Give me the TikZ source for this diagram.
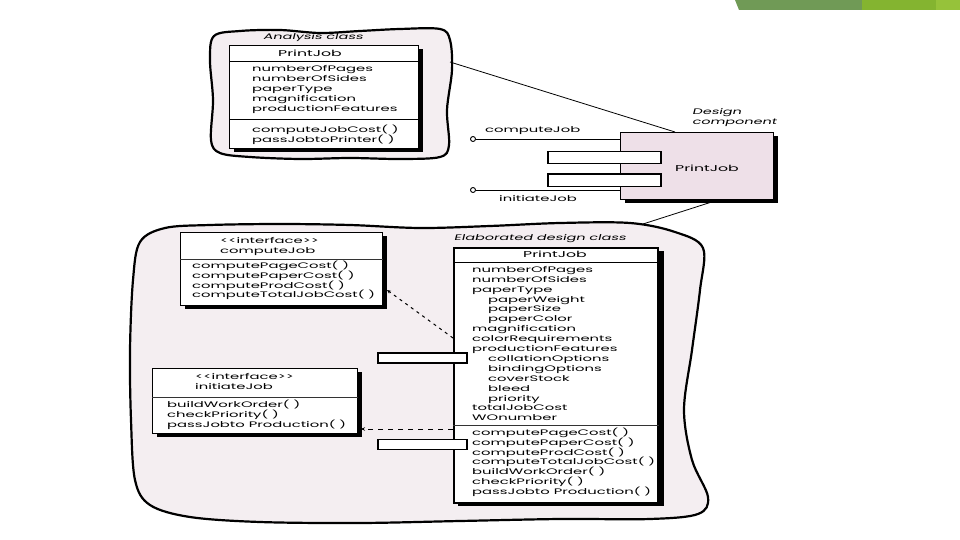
\documentclass[tikz,border=0pt]{standalone}
\usepackage{fontspec}
\usetikzlibrary{arrows.meta,positioning,shadows}
\newfontfamily\umlfont{Poppins}[FakeStretch=1.85]
\newfontfamily\umlslant{Poppins}[FakeStretch=1.8,FakeSlant=0.25]
\definecolor{cloudpink}{RGB}{244,238,241}
\definecolor{comppink}{RGB}{238,224,232}
\definecolor{bargreen}{RGB}{112,154,86}
\definecolor{barlime}{RGB}{132,180,48}
\definecolor{barleaf}{RGB}{150,194,58}
\tikzset{
  blob/.style={draw=black,line width=2.2pt,fill=cloudpink,line join=round},
  classbox/.style={draw=black,line width=1.2pt,fill=white,anchor=north west,inner sep=0pt,
    general shadow={fill=black,shadow xshift=4pt,shadow yshift=-3pt}},
  compbox/.style={classbox,fill=comppink,line width=1.3pt},
  portbox/.style={draw=black,line width=1.5pt,fill=white,anchor=north west,inner sep=0pt},
  sepline/.style={draw=black!80,line width=0.9pt},
  % first baseline sits on the given y
  members/.style={anchor=north west,yshift=6.93pt,align=left,inner sep=0pt,
    font=\umlfont\fontsize{8}{9.9}\selectfont,execute at begin node=\strut},
  hdr/.style={inner sep=0pt,font=\umlfont\fontsize{8.5}{10}\selectfont},
  italabel/.style={inner sep=0pt,anchor=base west,align=left,font=\umlslant\fontsize{8}{9.5}\selectfont},
  lolly/.style={circle,draw=black,line width=0.9pt,fill=white,inner sep=0pt,minimum size=5pt},
  wire/.style={draw=black,line width=0.8pt},
  realize/.style={-{Stealth[length=4pt,width=3.5pt]},draw=black,line width=1pt,dash pattern=on 5pt off 5pt}
}
\begin{document}
\begin{tikzpicture}[x=1pt,y=-1pt]
\useasboundingbox (0,0) rectangle (960,540);
% slide accent bar
\fill[bargreen] (735,0) -- (862,0) -- (862,10) -- (739,10) -- cycle;
\fill[barlime] (862,0) rectangle (936,10);
\fill[barleaf] (936,0) rectangle (960,10);

% clouds
\draw[blob] plot[smooth cycle,tension=0.55] coordinates {
  (214,36) (240,31) (280,30) (320,33) (360,31) (400,29) (440,29) (450,40) (452,70)
  (447,110) (449,145) (440,157) (400,159) (350,158) (300,159) (250,157) (220,153)
  (211,140) (213,100) (210,60)};
\draw[blob] plot[smooth cycle,tension=0.55] coordinates {
  (140,242) (165,228) (210,225) (280,224) (350,225) (420,228) (490,226) (560,223)
  (630,223) (675,232) (703,248) (700,290) (692,350) (684,410) (692,460) (708,497)
  (698,514) (650,519) (560,519) (460,521) (360,523) (260,522) (190,517) (150,505)
  (135,480) (131,420) (130,350) (133,280)};
\coordinate (anaEdge) at (450,62);
\coordinate (elabEdge) at (643,224);

% analysis class
\node[italabel,anchor=base] (anaTag) at (313,40) {Analysis class};
\node[classbox,minimum width=189pt,minimum height=103pt] (pjA) at (229,45) {};
\node[hdr] (pjAName) at (310,53) {PrintJob};
\draw[sepline,draw=black] (pjA.west |- 0,61) -- (pjA.east |- 0,61);
\node[members] (pjAAttr) at (252,72.5) {numberOfPages\\numberOfSides\\paperType\\magnification\\productionFeatures};
\draw[sepline,draw=black] (pjA.west |- 0,119) -- (pjA.east |- 0,119);
\node[members] (pjAOps) at (252,131.5) {computeJobCost( )\\passJobtoPrinter( )};

% design component
\node[compbox,minimum width=153pt,minimum height=67pt] (comp) at (620,132) {};
\node[hdr] (compName) at (707,168) {PrintJob};
\node[italabel] (compTag) at (692,124.5) {Design\\component};
\node[portbox,minimum width=113pt,minimum height=12pt] (compPort1) at (547,151) {};
\node[portbox,minimum width=113pt,minimum height=12pt,below=9pt of compPort1] (compPort2) {};
\draw[wire] (anaEdge) -- ([xshift=55pt]comp.north west);
\draw[wire] ([xshift=97pt]comp.south west) -- (elabEdge);

\node[lolly] (cjBall) at (473,139) {};
\draw[wire] (cjBall) -- (cjBall -| comp.west);
\node[members] (cjLabel) at (485,132.5) {computeJob};
\node[lolly] (iiBall) at (473,190) {};
\draw[wire] (iiBall) -- (iiBall -| comp.west);
\node[members] (iiLabel) at (499,201.5) {initiateJob};

% elaborated design class
\node[italabel,anchor=base] (elabTag) at (540,240.5) {Elaborated design class};
\node[classbox,line width=1.5pt,minimum width=204pt,minimum height=255pt,
  general shadow={fill=black,shadow xshift=6pt,shadow yshift=-3pt}] (pjE) at (453,247) {};
\node[hdr] (pjEName) at (555,254) {PrintJob};
\draw[sepline,draw=black] (pjE.west |- 0,262) -- (pjE.east |- 0,262);
\node[members] (pjEAttr) at (472,273) {numberOfPages\\numberOfSides\\paperType\\
  \hspace*{16pt}paperWeight\\\hspace*{16pt}paperSize\\\hspace*{16pt}paperColor\\
  magnification\\colorRequirements\\productionFeatures\\
  \hspace*{16pt}collationOptions\\\hspace*{16pt}bindingOptions\\\hspace*{16pt}coverStock\\
  \hspace*{16pt}bleed\\\hspace*{16pt}priority\\totalJobCost\\WOnumber};
\draw[sepline] (pjE.west |- 0,425) -- (pjE.east |- 0,425);
\node[members] (pjEOps) at (472,434.5) {computePageCost( )\\computePaperCost( )\\computeProdCost( )\\
  computeTotalJobCost( )\\buildWorkOrder( )\\checkPriority( )\\passJobto Production( )};

% interfaces
\node[classbox,minimum width=202pt,minimum height=73pt] (cjIf) at (180,232) {};
\node[members] (cjIfHead) at (220,244.5) {<<interface>>\\computeJob};
\draw[sepline] (cjIf.west |- 0,259) -- (cjIf.east |- 0,259);
\node[members] (cjIfOps) at (192,267.5) {computePageCost( )\\computePaperCost( )\\computeProdCost( )\\computeTotalJobCost( )};

\node[classbox,minimum width=205pt,minimum height=65pt] (iiIf) at (152,368) {};
\node[members] (iiIfHead) at (195,380.5) {<<interface>>\\initiateJob};
\draw[sepline] (iiIf.west |- 0,397) -- (iiIf.east |- 0,397);
\node[members] (iiIfOps) at (167,406.5) {buildWorkOrder( )\\checkPriority( )\\passJobto Production( )};

% ports and realizations
\node[portbox,minimum width=89pt,minimum height=10pt] (pjEPort1) at (377,352) {};
\node[portbox,minimum width=89pt,minimum height=10pt,below=75pt of pjEPort1] (pjEPort2) {};
\coordinate (cjTip) at (387,290);
\draw[realize,dash pattern=on 3pt off 4pt] (pjE.west |- 0,338) -- (cjTip);
\coordinate (iiTip) at (361,429);
\draw[realize] (pjE.west |- iiTip) -- (iiTip);
\end{tikzpicture}
\end{document}
